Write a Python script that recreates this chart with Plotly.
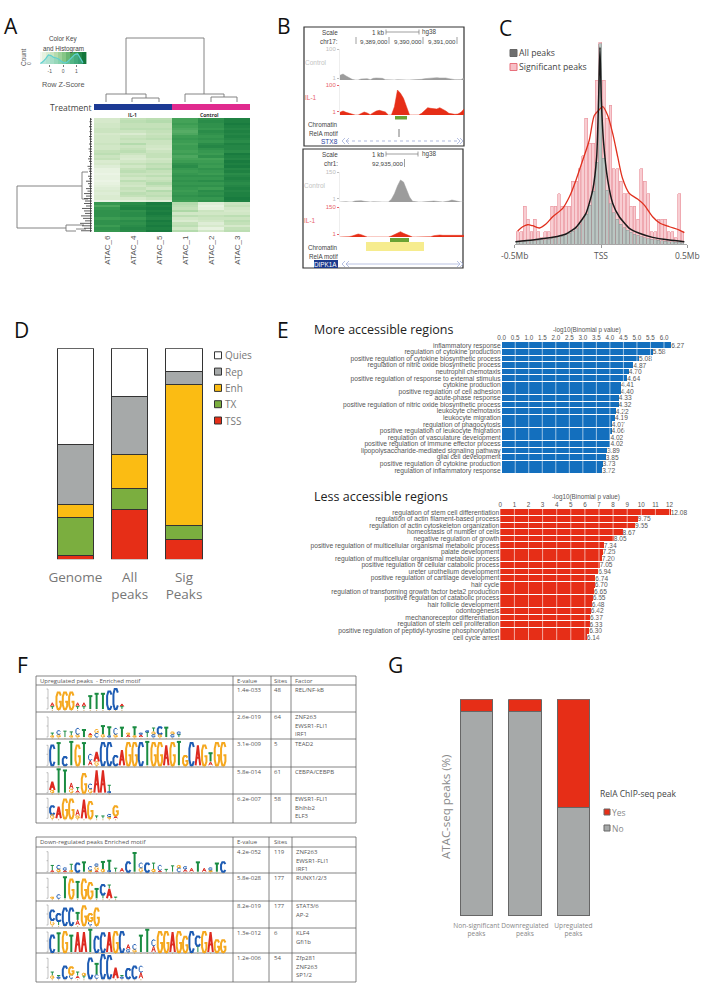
import re
import plotly.graph_objects as go

W, H = 720, 991
OS = "Open Sans"
LS = "Liberation Sans"

# ---------- Panel A data ----------
HEAT_SAMPLES = ["ATAC_6", "ATAC_4", "ATAC_5", "ATAC_1", "ATAC_2", "ATAC_3"]
ATAC_6 = [-1.0,-1.0,-0.9,-0.9,-0.8,-0.8,-1.0,-0.9,-0.9,-0.9,-0.8,-0.9,-0.9,-0.7,-0.6,-0.8,-0.7,-1.1,-1.0,-1.2,-1.4,-1.4,-1.5,-1.4,-1.4,-1.5,-1.4,-1.3,-1.2,-1.1,-1.2,-1.1,-1.1,-1.5,1.0,0.7,1.0,1.1,1.1,1.1,0.9,1.1,1.1,0.9,1.1,1.0]
ATAC_4 = [-.7,-.6,-.7,-.7,-.6,-.8,-1.1,-.8,-.7,-.8,-.5,-.8,-.7,-.6,-.8,-1.0,-1.1,-.9,-.7,-.9,-.7,-.6,-.8,-.7,-.9,-.6,-.8,-.9,-.7,-.8,-.6,-.7,-1.0,-1.3,1.2,1.3,1.4,1.1,1.2,1.2,1.0,1.2,1.1,1.2,1.3,1.2]
ATAC_5 = [-.6,-.5,-.7,-.7,-.6,-.7,-.8,-.7,-.6,-.8,-.8,-.9,-1.0,-.8,-.7,-.7,-.9,-.8,-.6,-.7,-.5,-.7,-.8,-.6,-.8,-.7,-.5,-.7,-.9,-.5,-.7,-.6,-.8,-1.2,1.5,1.4,1.5,1.4,1.5,1.4,1.3,1.5,1.4,1.5,1.4,1.5]
ATAC_1 = [.8,.8,.9,.8,.7,.6,.7,.9,1.0,.9,.8,.9,.9,.8,.9,.7,.8,.9,1.1,1.2,1.0,.9,1.0,1.1,1.0,1.1,1.0,1.1,1.0,.9,1.0,1.1,1.0,.9,-.5,-.6,-.7,-.4,-.9,-.6,-.9,-1.1,-.7,-.6,-.9,-.5]
ATAC_2 = [1.1,1.2,1.1,1.1,1.0,1.2,1.1,1.0,1.1,1.0,1.2,1.3,1.1,1.0,.9,1.1,.8,.9,1.0,.9,1.1,1.0,.9,1.1,1.0,1.2,1.0,1.1,.9,1.2,1.1,1.2,1.0,1.1,-1.2,-1.4,-1.3,-.8,-.9,-.7,-.8,-.9,-1.2,-1.0,-1.4,-.9]
ATAC_3 = [1.4,1.4,1.5,1.4,1.3,1.4,1.3,1.4,1.3,1.2,1.4,1.3,1.3,1.2,1.5,1.4,1.3,1.5,1.4,1.5,1.3,1.4,1.2,1.3,1.4,1.3,1.2,1.3,1.4,1.3,1.4,1.4,1.5,1.4,-.8,-.7,-.9,-1.0,-.9,-.6,-.8,-.6,-.7,-1.0,-.7,-.6]
LEAF_DEPTH = [90,89.5,90,89,90,89.5,90,89,89.5,90,89,90,88.5,89.5,90,89,88,89,90,87.5,88.5,89,90,88,89,86,88,89,86,87.5,84,86,84,85,84,86,82,84,85,81,83,85,80,82,84,81]
KEY_VALUES = [-1.7,-1.4,-1.1,-0.8,-0.5,-0.2,0.1,0.4,0.7,1.0,1.3,1.6]
KEY_HIST_X = [-1.7,-1.5,-1.3,-1.1,-0.9,-0.7,-0.5,-0.3,-0.1,0.1,0.3,0.5,0.7,0.9,1.1,1.3,1.5]
KEY_HIST_Y = [0.05,0.2,0.45,0.75,0.7,0.55,0.5,0.4,0.2,0.1,0.15,0.35,0.6,0.8,0.85,0.5,0.1]

# ---------- Panel B data ----------
TRACK1_CONTROL = [14,18,12,6,2,0,0,3,4,4,1,5,6,6,5,1,0,0,0,1,0,0,0,0,0,0,0,2,4,5,6,7,7,6,7,6,4,2,1,1,1,6]
TRACK1_IL1 = [8,12,8,5,1,0,0,5,9,6,1,7,12,14,12,9,0,0,25,75,65,50,25,0,0,0,0,5,15,22,20,18,18,22,18,12,5,3,2,3,8,18]
TRACK2_CONTROL = [0,1,1,0,0,3,4,4,2,0,0,1,0,0,0,0,0,8,25,48,66,60,38,15,2,0,0,0,0,0,2,3,3,1,0,1,3,6,4,1,0,0]
TRACK2_IL1 = [0,0,1,1,3,7,9,7,3,0,0,0,0,0,0,0,0,3,7,11,16,11,7,4,0,0,0,0,0,0,1,4,6,6,5,5,6,7,7,7,6,5]

# ---------- Panel C data ----------
SIG_COUNTS = [1,1,3,2,1,2,1,.5,1,1,3,3,4,3,3,3,5,5,6,7,10,8,8,13,16,13,10,11,6,6,5,4,4,3,3,2,6,5,4,1,1,2,2,2,1,1,.5,4,1]
ALL_COUNTS = [.2,.22,.25,.27,.3,.3,.32,.35,.38,.42,.47,.52,.58,.65,.75,.88,1.05,1.25,1.55,1.95,2.4,3.1,4.2,6.5,15.9,6.8,4.3,3.2,2.5,2.0,1.6,1.3,1.1,.95,.8,.7,.6,.52,.45,.4,.35,.32,.28,.25,.22,.2,.18,.16,.14]
RED_X = [-.483,-.454,-.425,-.396,-.357,-.319,-.28,-.222,-.183,-.145,-.106,-.068,-.039,-.014,.01,.039,.068,.097,.125,.164,.212,.251,.299,.338,.396,.454,.483]
RED_Y = [1.05,1.39,1.55,1.47,1.29,1.6,2.18,2.84,3.76,5.08,6.66,8.24,10.2,10.6,10.9,10.2,8.76,6.92,5.21,4.03,3.58,3.1,2.18,1.71,1.39,1.13,.92]
BLACK_X = [-.496,-.396,-.28,-.203,-.145,-.087,-.048,-.025,-.014,-.006,.002,.014,.039,.068,.106,.164,.222,.299,.396,.483]
BLACK_Y = [.21,.34,.55,.82,1.34,2.45,4.29,6.92,11.4,15.6,11.4,8.24,5.08,3.24,2.18,1.26,.87,.55,.34,.21]

# ---------- Panel D data ----------
D_GROUPS = ["Genome", "All<br>peaks", "Sig<br>Peaks"]
D_TSS = [2.0, 23.4, 9.5]
D_TX = [18.0, 10.1, 6.6]
D_ENH = [5.9, 16.3, 66.7]
D_REP = [28.3, 27.5, 6.3]
D_QUIES = [45.8, 22.7, 10.9]

# ---------- Panel E data ----------
MORE_TERMS = ["inflammatory response","regulation of cytokine production","positive regulation of cytokine biosynthetic process","regulation of nitric oxide biosynthetic process","neutrophil chemotaxis","positive regulation of response to external stimulus","cytokine production","positive regulation of cell adhesion","acute-phase response","positive regulation of nitric oxide biosynthetic process","leukocyte chemotaxis","leukocyte migration","regulation of phagocytosis","positive regulation of leukocyte migration","regulation of vasculature development","positive regulation of immune effector process","lipopolysaccharide-mediated signaling pathway","glial cell development","positive regulation of cytokine production","regulation of inflammatory response"]
MORE_VALUES = [6.27,5.58,5.08,4.87,4.70,4.64,4.41,4.40,4.33,4.32,4.22,4.19,4.07,4.06,4.02,4.02,3.89,3.85,3.73,3.72]
LESS_TERMS = ["regulation of stem cell differentiation","regulation of actin filament-based process","regulation of actin cytoskeleton organization","homeostasis of number of cells","negative regulation of growth","positive regulation of multicellular organismal metabolic process","palate development","regulation of multicellular organismal metabolic process","positive regulation of cellular catabolic process","ureter urothelium development","positive regulation of cartilage development","hair cycle","regulation of transforming growth factor beta2 production","positive regulation of catabolic process","hair follicle development","odontogenesis","mechanoreceptor differentiation","regulation of stem cell proliferation","positive regulation of peptidyl-tyrosine phosphorylation","cell cycle arrest"]
LESS_VALUES = [12.08,9.75,9.55,8.67,8.05,7.34,7.25,7.20,7.05,6.94,6.74,6.70,6.65,6.55,6.48,6.42,6.37,6.33,6.30,6.14]
MORE_TICKS = [0,.5,1,1.5,2,2.5,3,3.5,4,4.5,5,5.5,6]
LESS_TICKS = [0,1,2,3,4,5,6,7,8,9,10,11,12]

# ---------- Panel F data (letter + height in tenths of a bit, stacked bottom to top) ----------
UP_HEADER = ["Upregulated peaks  - Enriched motif", "E-value", "Sites", "Factor"]
UP_EVALUES = ["1.4e-033","2.6e-019","3.1e-009","5.8e-014","6.2e-007"]
UP_SITES = ["48","64","5","61","58"]
UP_FACTORS = [["REL/NF-kB"],["ZNF263","EWSR1-FLI1","IRF1"],["TEAD2"],["CEBPA/CEBPB"],["EWSR1-FLI1","Bhlhb2","ELF3"]]
DOWN_HEADER = ["Down-regulated peaks Enriched motif", "E-value", "Sites", ""]
DOWN_EVALUES = ["4.2e-052","5.8e-028","8.2e-019","1.3e-012","1.2e-006"]
DOWN_SITES = ["119","177","177","6","54"]
DOWN_FACTORS = [["ZNF263","EWSR1-FLI1","IRF1"],["RUNX1/2/3"],["STAT3/6","AP-2"],["KLF4","Gfi1b"],["Zfp281","ZNF263","SP1/2"]]
UP_LOGOS = [
 ["T2A3","G14","G14","G14","T2A3","T2A3","T11","T13","T13","C15","C17","T2A2"],
 ["G1T2","G2C3","T5","G1T3","G2C5","T6","G1A2","C3G3","G2T7","C1T7","G2C5","T8","A2G1","G1T7","A2C1","T4C1","C2G2T3","G2C6","T8","C2G2","T2C2"],
 ["C17","T19","C7","T20","G17","T19","A4C5","G3A8","C19","C19","C8","A13","G19","G19","C19","T20","G19","G19","A17","G19","T20","G8","C19","A17","G17","A3T7","G19","G19"],
 ["G2A7","T20","T19","G3A5","A2T2","G16","G3C4","A19","A19","C1T5"],
 ["G3C7","A10","G16","G16","G2A5","A16","G14","T2","T2","G1C2","A2G8"],
]
DOWN_LOGOS = [
 ["A1T4","G2C3","A1C2","G1T5","C7","T8","G1C3","A1G3C2","G2T6","C1T8","T3","A3","C8","T16","G3C4","C7","G2T5","A1C4","T2","T5","C3G2","A2C2","A3","T8","A3","G1C2","T7","C8"],
 ["G1","C3","T18","G16","T14","G16","G13","T8","T3C8","A8T3","T1"],
 ["G4C8","T3C6","C14","C14","A4T6","G16","C3G6","G14"],
 ["C14","T16","G17","T14","A17","A17","T19","C13","C16","A17","G17","C17","C2A4","G2C4","T14","T19","A5C5","G17","G17","A17","G17","G13","C17","T5C8","G17","A17","G10","G10"],
 ["G2T3","C1T1","C10","C3G6","A2T3","T2G2","C17","C3T9","C20","C19","A9","C1T1","C8","C10","A5C5"],
]

# ---------- Panel G data ----------
G_GROUPS = ["Non-significant<br>peaks", "Downregulated<br>peaks", "Upregulated<br>peaks"]
G_NO = [94.5, 94.3, 50.0]
G_YES = [5.5, 5.7, 50.0]

# ---------- style constants ----------
GREENS = [[0, "#f4f8f0"], [0.25, "#cfe6c3"], [0.5, "#8ecb8d"], [0.75, "#3f9f55"], [1, "#0d7038"]]
RED = "#e62e17"
GREY = "#a6a9a9"
NUC = {"A": "#dd2a20", "C": "#1e5cb3", "G": "#f5a81f", "T": "#1a8c42"}
GLYPH = {
 "T": [[(.05,1),(.95,1)],[(.5,1),(.5,0)]],
 "A": [[(0,0),(.5,1),(1,0)],[(.2,.38),(.8,.38)]],
 "C": [[(.98,.82),(.72,1),(.3,1),(.03,.75),(.03,.25),(.3,0),(.72,0),(.98,.18)]],
 "G": [[(.98,.82),(.72,1),(.3,1),(.03,.75),(.03,.25),(.3,0),(.72,0),(.98,.18),(.98,.45),(.55,.45)]],
}

fig = go.Figure()
layout = dict(width=W, height=H, autosize=False, margin=dict(l=0, r=0, t=0, b=0, pad=0, autoexpand=False), paper_bgcolor="white",
              plot_bgcolor="rgba(0,0,0,0)", showlegend=False, barmode="stack",
              xaxis=dict(domain=[0,1], range=[0,W], visible=False, fixedrange=True),
              yaxis=dict(domain=[0,1], range=[H,0], visible=False, fixedrange=True))
annotations, shapes = [], []

def axes(n, x0, x1, y0, y1, xkw=None, ykw=None):
    xd = dict(domain=[x0/W, x1/W], anchor=f"y{n}", showgrid=False, zeroline=False, fixedrange=True, automargin=False)
    yd = dict(domain=[1-y1/H, 1-y0/H], anchor=f"x{n}", showgrid=False, zeroline=False, fixedrange=True, automargin=False)
    xd.update(xkw or {}); yd.update(ykw or {})
    layout[f"xaxis{n}"] = xd; layout[f"yaxis{n}"] = yd

def txt(x, y, s, size=7, color="#555", anchor="left", font=OS, angle=0, bold=False, bg=None):
    annotations.append(dict(x=x, y=y, xref="x", yref="y", text=f"<b>{s}</b>" if bold else s, showarrow=False,
        xanchor=anchor, yanchor="middle", textangle=angle, borderpad=0, borderwidth=0, bgcolor=bg,
        font=dict(family=font, size=size, color=color)))

def segs(seglist, color, width=1.0, dash=None):
    xs, ys = [], []
    for s in seglist:
        xs += [p[0] for p in s] + [None]
        ys += [p[1] for p in s] + [None]
    fig.add_trace(go.Scatter(x=xs, y=ys, mode="lines", line=dict(color=color, width=width, dash=dash), hoverinfo="skip", xaxis="x", yaxis="y"))

def rect(x0, y0, x1, y1, fill=None, line=None, w=1):
    shapes.append(dict(type="rect", xref="x", yref="y", x0=x0, y0=y0, x1=x1, y1=y1,
        fillcolor=fill or "rgba(0,0,0,0)", line=dict(color=line or "rgba(0,0,0,0)", width=w if line else 0), layer="below"))

def swatches(xs, ys, colors, size=7, linecolor="#444"):
    fig.add_trace(go.Scatter(x=xs, y=ys, mode="markers", marker=dict(symbol="square", size=size, color=colors, line=dict(color=linecolor, width=1)), hoverinfo="skip", xaxis="x", yaxis="y"))

# panel letters
for s, x, y in [("A",4,26),("B",277,26),("C",499,28),("D",14,330),("E",277,330),("F",17,665),("G",388,665)]:
    txt(x, y, s, size=21, color="#111")

# ---------- A ----------
rows = [list(r) for r in zip(ATAC_6, ATAC_4, ATAC_5, ATAC_1, ATAC_2, ATAC_3)]
fig.add_trace(go.Heatmap(z=rows, x=HEAT_SAMPLES, colorscale=GREENS, zmin=-1.7, zmax=1.7, showscale=False, xaxis="x2", yaxis="y2", hoverinfo="skip"))
axes(2, 94, 250, 118, 232,
     dict(tickangle=-90, tickfont=dict(family=LS, size=8, color="#555"), ticks="", ticklabelstandoff=1),
     dict(visible=False, autorange="reversed"))
segs([[(106,102),(106,94),(146,94),(146,98)],[(132,102),(132,98),(159,98),(159,102)],
      [(126,94),(126,38),(204,38),(204,94)],[(185,102),(185,94),(224,94),(224,97)],
      [(211,102),(211,97),(237,97),(237,102)],
      [(82,186),(17,186),(17,228),(66,228)],[(82,172),(82,199)],[(82,172),(88,172)],[(82,199),(88,199)],
      [(66,225),(66,231),(76,231)],[(66,225),(84,225)],[(76,229),(86,229)]], "#777", 0.9)
row_h = 114/len(LEAF_DEPTH)
segs([[(d, 118+row_h*(i+.5)), (92, 118+row_h*(i+.5))] for i, d in enumerate(LEAF_DEPTH)] + [[(90.5,118),(90.5,232)]], "#333", 0.8)
rect(94, 104, 172, 110, fill="#1c3a94")
rect(172, 104, 250, 110, fill="#e02a8e")
txt(92, 107, "Treatment", size=8.5, color="#444", anchor="right")
txt(132, 114.5, "IL-1", size=5, color="#333", anchor="center", bold=True)
txt(209, 114.5, "Control", size=5, color="#333", anchor="center", bold=True)
fig.add_trace(go.Heatmap(z=[KEY_VALUES], x=KEY_VALUES, y=[0.5], colorscale=GREENS, zmin=-1.7, zmax=1.7, showscale=False, xaxis="x3", yaxis="y3", hoverinfo="skip"))
fig.add_trace(go.Scatter(x=KEY_HIST_X, y=KEY_HIST_Y, mode="lines", line=dict(color="#5fd0d0", width=1.2), fill="tozeroy", fillcolor="rgba(95,208,208,.35)", xaxis="x3", yaxis="y3", hoverinfo="skip"))
axes(3, 40, 87, 52, 64,
     dict(range=[-1.73,1.8], tickvals=[-1,0,1], ticktext=["-1","0","1"], tickfont=dict(family=LS, size=5, color="#555"), ticks="outside", ticklen=2, tickcolor="#777"),
     dict(range=[0,1], visible=False))
txt(63, 39, "Color Key", size=6.3, color="#444", anchor="center", font=LS)
txt(63, 49, "and Histogram", size=6.3, color="#444", anchor="center", font=LS)
txt(63, 84, "Row Z-Score", size=7.3, color="#555", anchor="center", font=LS)
txt(23, 57, "Count", size=6.5, color="#555", anchor="center", font=LS, angle=-90)
txt(29, 64, "0", size=5, color="#555", anchor="center", font=LS, angle=-90)

# ---------- B ----------
def track(n, vals, color, y0, y1, tick1, labcol):
    fig.add_trace(go.Scatter(x=list(range(len(vals))), y=vals, mode="lines", line=dict(shape="linear", color=color, width=0.5), fill="tozeroy", fillcolor=color, xaxis=f"x{n}", yaxis=f"y{n}", hoverinfo="skip"))
    top = (y1-y0)*3
    axes(n, 340, 464, y0, y1, dict(visible=False, range=[0,len(vals)-1]),
         dict(range=[0,top], tickvals=[tick1, top], ticktext=["1", labcol[0]], tickfont=dict(family=LS, size=6, color=labcol[1]),
              ticks="outside", ticklen=2, tickcolor=labcol[1], showline=True, linecolor="#eeeeee", linewidth=1))
track(4, TRACK1_CONTROL, "#9c9c9c", 49, 80, 5, ("100", "#bdbdbd"))
track(5, TRACK1_IL1, RED, 85, 115, 10, ("100", "#e8636a"))
track(6, TRACK2_CONTROL, "#9c9c9c", 172, 202, 10, ("150", "#bdbdbd"))
track(7, TRACK2_IL1, RED, 207, 237, 9, ("150", "#e8636a"))
rect(304, 27, 464, 146, line="#333", w=1.2)
rect(303, 149, 463, 268, line="#333", w=1.2)
for y in (32, 154):
    txt(338, y, "Scale", 6.3, "#444", "right", LS)
    txt(384, y, "1 kb", 6.3, "#444", "right", LS)
    txt(422, y, "hg38", 6.3, "#444", "left", LS)
segs([[(386,32),(419,32)],[(386,29.5),(386,34.5)],[(419,29.5),(419,34.5)],
      [(386,154),(418,154)],[(386,151.5),(386,156.5)],[(418,151.5),(418,156.5)],
      [(356,37),(356,44)],[(389,37),(389,44)],[(423,37),(423,44)],[(457,37),(457,44)],[(404.5,159),(404.5,167)]], "#777", 0.7)
txt(338, 41, "chr17:", 6.3, "#444", "right", LS)
for x, s in [(389,"9,389,000"),(423,"9,390,000"),(457,"9,391,000")]:
    txt(x-1, 41, s, 6.2, "#444", "right", LS)
txt(338, 163, "chr1:", 6.3, "#444", "right", LS)
txt(403.5, 163, "92,935,000", 6.2, "#444", "right", LS)
txt(305, 62, "Control", 6.5, "#c4c4c4", "left", LS)
txt(305, 97, "IL-1", 6.5, "#e8636a", "left", LS)
txt(304, 185, "Control", 6.5, "#c4c4c4", "left", LS)
txt(304, 220, "IL-1", 6.5, "#e8636a", "left", LS)
for y in (124, 247):
    txt(338, y, "Chromatin", 6.3, "#444", "right", LS)
for y in (133, 256):
    txt(338, y, "RelA motif", 6.3, "#444", "right", LS)
rect(395, 116, 407, 119.5, fill="#6aa334")
segs([[(399,129),(399,137)]], "#555", 0.8)
rect(366, 242, 424, 251, fill="#f6ec8e")
rect(390, 238, 409, 242, fill="#6aa334")
txt(338, 141, "STX8", 6.5, "#2a3fa0", "right", LS)
rect(314, 260, 338, 268, fill="#1b3a8c")
txt(337, 264, "DIPK1A", 6.3, "#ffffff", "right", LS)
segs([[(346,141),(459,141)]], "#8d9bd0", 0.7, "dot")
segs([[(346,264),(459,264)]], "#a8b4dc", 0.8)
segs([[(345,138),(342,141),(345,144)],[(349,138),(346,141),(349,144)],[(457,138),(460,141),(457,144)],[(460,138),(463,141),(460,144)],
      [(345,261),(342,264),(345,267)],[(349,261),(346,264),(349,267)],[(457,261),(460,264),(457,267)],[(460,261),(463,264),(460,267)]], "#98a6d6", 0.7)

# ---------- C ----------
centers = [(i-24)*0.0199-0.005 for i in range(49)]
# each histogram on its own axes so the two series overlay rather than stack; grey sits over pink
fig.add_trace(go.Bar(x=centers, y=SIG_COUNTS, width=0.0165, marker=dict(color="#f8cdd2", line=dict(color="#eb9aa3", width=0.7)), xaxis="x8", yaxis="y8", hoverinfo="skip"))
fig.add_trace(go.Bar(x=centers, y=ALL_COUNTS, width=0.0165, marker=dict(color="#bac6c2", line=dict(color="#909494", width=0.5)), xaxis="x13", yaxis="y13", hoverinfo="skip"))
fig.add_trace(go.Scatter(x=RED_X, y=RED_Y, mode="lines", line=dict(color="#e0301e", width=1.3, shape="spline", smoothing=0.8), xaxis="x13", yaxis="y13", hoverinfo="skip"))
fig.add_trace(go.Scatter(x=BLACK_X, y=BLACK_Y, mode="lines", line=dict(color="#1a1a1a", width=1.5, shape="spline", smoothing=0.5), xaxis="x13", yaxis="y13", hoverinfo="skip"))
axes(8, 514.7, 687.3, 42.3, 244.3,
     dict(range=[-.5,.5], tickvals=[-.5,0,.5], ticktext=["-0.5Mb","TSS","0.5Mb"], tickfont=dict(family=OS, size=8.5, color="#555"),
          ticks="outside", ticklen=3, tickcolor="#999", showline=True, linecolor="#aaa", linewidth=1),
     dict(range=[0,16], visible=False))
axes(13, 514.7, 687.3, 42.3, 244.3, dict(range=[-.5,.5], visible=False), dict(range=[0,16], visible=False))
swatches([513.5], [53], ["#6e6e6e"], 7, "#666")
swatches([513.5], [67], ["#f7c0c6"], 7, "#e8707c")
txt(519, 53, "All peaks", 8.7, "#444")
txt(519, 67, "Significant peaks", 8.7, "#444")

# ---------- D ----------
for vals, col in [(D_TSS,RED),(D_TX,"#7bae3f"),(D_ENH,"#fbbc13"),(D_REP,GREY),(D_QUIES,"#ffffff")]:
    fig.add_trace(go.Bar(x=D_GROUPS, y=vals, width=0.67, marker=dict(color=col, line=dict(color="#333", width=1.1)), xaxis="x9", yaxis="y9", hoverinfo="skip"))
axes(9, 48.2, 211.2, 348.3, 559.3,
     dict(tickfont=dict(family=OS, size=13.5, color="#777"), ticks="", ticklabelstandoff=8, tickangle=0),
     dict(range=[0,100], visible=False))
for i, (s, c) in enumerate([("Quies","#ffffff"),("Rep",GREY),("Enh","#fbbc13"),("TX","#7bae3f"),("TSS",RED)]):
    y = 355.3 + 16.3*i
    swatches([218], [y], [c], 7, "#333")
    txt(224.5, y, s, 10, "#777")

# ---------- E ----------
def ebars(n, terms, values, col, ticks, zero, pxu, y0, y1):
    cats = [f"{i}" for i in range(len(terms))]
    fig.add_trace(go.Bar(y=cats, x=values, orientation="h", width=0.88, marker=dict(color=col, line=dict(width=0)),
        text=[f"{v:.2f}" for v in values], textposition="outside", cliponaxis=False, textangle=0, constraintext="none",
        textfont=dict(family=LS, size=6.6, color="#555"), xaxis=f"x{n}", yaxis=f"y{n}", hoverinfo="skip"))
    axes(n, zero, 720, y0, y1,
         dict(range=[0,(720-zero)/pxu], side="top", tickvals=ticks, ticktext=[(f"{t:.1f}" if n == 10 else str(t)) for t in ticks],
              tickfont=dict(family=LS, size=6.3, color="#555"), ticks="", ticklabelstandoff=0, tickangle=0),
         dict(type="category", categoryorder="array", categoryarray=cats, autorange="reversed", tickmode="array", tickvals=cats, ticktext=terms,
              tickfont=dict(family=LS, size=6.7, color="#555"), ticks="", ticklabelstandoff=0))
    for t in ticks[1:]:
        shapes.append(dict(type="line", xref=f"x{n}", yref=f"y{n} domain", x0=t, x1=t, y0=0, y1=1, line=dict(color="rgba(255,255,255,.75)", width=0.8), layer="above"))
ebars(10, MORE_TERMS, MORE_VALUES, "#136fbe", MORE_TICKS, 501.7, 27.05, 342, 473.5)
ebars(11, LESS_TERMS, LESS_VALUES, RED, LESS_TICKS, 500.3, 14.1, 509, 640.5)
txt(314, 329, "More accessible regions", 12.5, "#222")
txt(314, 496, "Less accessible regions", 12.5, "#222")
txt(587, 330, "-log10(Binomial p value)", 6.3, "#555", "center", LS)
txt(586, 497, "-log10(Binomial p value)", 6.3, "#555", "center", LS)

# ---------- F ----------
def table(rows_y, cols_x, header, evals, sites, factors, text_x):
    segs([[(36,y),(356,y)] for y in rows_y] + [[(x,rows_y[0]),(x,rows_y[-1])] for x in cols_x], "#666", 0.8)
    hy = (rows_y[0]+rows_y[1])/2
    for x, s in zip(text_x, header):
        if s:
            txt(x, hy, s, 6, "#555")
    for i, y in enumerate(rows_y[1:-1]):
        txt(text_x[1], y+5, evals[i], 6, "#555")
        txt(text_x[2], y+5, sites[i], 6, "#555")
        for j, f in enumerate(factors[i]):
            txt(text_x[3], y+5+j*8.7, f, 6, "#555")
table([676,685,712,739,767,794,823], [36,233,271,291,356], UP_HEADER, UP_EVALUES, UP_SITES, UP_FACTORS, [40,237,274,295])
table([837,847,873,901,928,953,982], [36,233,269,292,356], DOWN_HEADER, DOWN_EVALUES, DOWN_SITES, DOWN_FACTORS, [40,237,274,296])

def draw_logos(logos, baselines):
    buckets = {}
    for logo, base in zip(logos, baselines):
        segs([[(48,base-20),(48,base)],[(46.5,base-11),(48,base-11)],[(46.5,base-20),(48,base-20)],[(46.5,base),(48,base)]], "#999", 0.6)
        segs([[(52.3+6.33*i, base+0.8),(52.3+6.33*i, base+2)] for i in range(len(logo))], "#c9a060", 0.8)
        for i, tok in enumerate(logo):
            cx = 52.3 + 6.33*i
            y = base
            for let, h in re.findall(r"([ACGT])(\d+)", tok):
                hp = int(h)*1.17
                w = 4.6 if hp > 6 else 3.6
                key = (let, hp > 6)
                for stroke in GLYPH[let]:
                    buckets.setdefault(key, []).append([(cx-w/2+px*w, y-py*hp) for px, py in stroke])
                y -= hp + 0.4
    for (let, big), sl in buckets.items():
        segs(sl, NUC[let], 2.0 if big else 1.0)
draw_logos(UP_LOGOS, [709,737,765.3,792.7,818.3])
draw_logos(DOWN_LOGOS, [871.7,898.3,925,952,978.3])

# ---------- G ----------
for vals, col in [(G_NO,GREY),(G_YES,RED)]:
    fig.add_trace(go.Bar(x=G_GROUPS, y=vals, marker=dict(color=col, line=dict(color="#666", width=1)), width=0.67, xaxis="x12", yaxis="y12", hoverinfo="skip"))
axes(12, 452.2, 597.7, 699.3, 916,
     dict(tickfont=dict(family=OS, size=6.6, color="#888"), ticks="", ticklabelstandoff=4, tickangle=0),
     dict(range=[0,100], visible=False))
txt(445, 807, "ATAC-seq peaks (%)", 11.5, "#8a8a8a", "center", OS, angle=-90)
txt(600, 793, "RelA ChIP-seq peak", 8.5, "#444")
swatches([607], [812], [RED], 6, "#666")
swatches([607], [828], [GREY], 6, "#666")
txt(612, 812, "Yes", 8.5, "#888")
txt(612, 828, "No", 8.5, "#888")

layout["annotations"] = annotations
layout["shapes"] = shapes
fig.update_layout(**layout)
fig.write_html("out.html", post_script="document.body.style.margin='0';", config={"displayModeBar": False})
